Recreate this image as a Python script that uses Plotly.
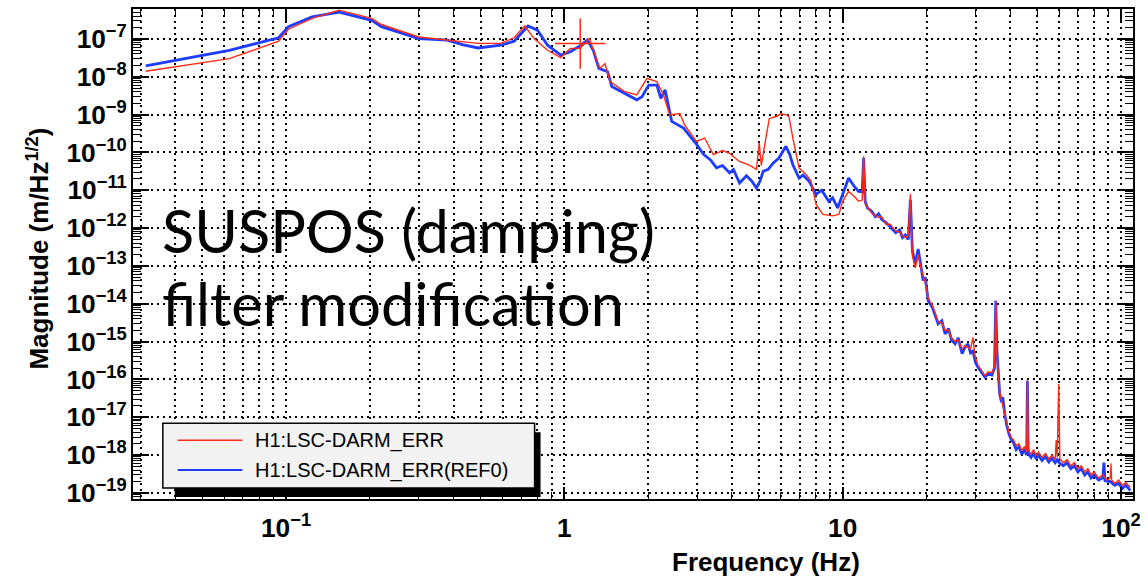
import plotly.graph_objects as go

# ---------------- data ----------------
blue_freq = [0.0313, 0.0625, 0.094, 0.102, 0.124, 0.155, 0.203, 0.22, 0.30, 0.38, 0.43, 0.49, 0.59, 0.66,
             0.74, 0.80, 0.87, 0.97, 1.05, 1.14, 1.21, 1.27, 1.33, 1.43, 1.48, 1.64, 1.82, 1.90, 2.01, 2.15,
             2.22, 2.30, 2.43, 2.68, 2.99, 3.16, 3.35, 3.52, 3.7, 3.92, 4.05, 4.26, 4.51, 4.7, 4.9, 5.05,
             5.18, 5.4, 5.62, 5.9, 6.25, 6.45, 6.62, 6.97, 7.2, 7.57, 8.02, 8.4, 8.91, 9.2, 9.59, 10.0,
             10.5, 11.0, 11.4, 11.75, 11.89, 12.05, 12.27,
             12.7, 13.1, 13.46, 13.8, 14.3, 14.8, 15.5, 16.0, 16.4, 16.8, 17.2, 17.5, 17.8, 18.24, 18.66,
             19.0, 19.45, 19.8, 20.28, 21.0, 21.5, 22.03, 22.7, 23.33, 24.0, 24.6, 25.35, 26.0, 26.85,
             27.5, 28.18, 28.8, 29.38, 30.0, 30.62, 31.5, 32.43, 33.3, 34.36, 35.1, 35.48, 35.8, 36.06,
             36.64, 37.2, 37.58, 38.2, 38.82, 39.6, 40.46,
             41, 42, 43, 44, 45, 45.8, 46.1, 46.4, 47.5, 48.5, 49.5, 50.5, 52, 53.5, 55, 56.5, 58, 59,
             60.3, 62, 64, 66, 68, 70, 72, 74, 76, 78, 80, 83, 86, 86.8, 87.6, 91.5, 95, 98, 101, 104, 108]
blue_mag = [1.95e-8, 5.0e-8, 1.07e-7, 2.1e-7, 3.8e-7, 5.1e-7, 3.1e-7, 2.1e-7, 1.02e-7, 9.3e-8, 7.1e-8,
            5.75e-8, 6.8e-8, 8.7e-8, 2.2e-7, 1.7e-7, 6.8e-8, 3.7e-8, 4.6e-8, 6.6e-8, 9.3e-8, 5.0e-8,
            1.66e-8, 1.35e-8, 5.5e-9, 3.6e-9, 2.45e-9, 2.95e-9, 6.0e-9, 6.0e-9, 2.7e-9, 4.5e-9, 6.6e-10,
            4.4e-10, 1.6e-10, 8.9e-11, 6.3e-11, 3.9e-11, 4.5e-11, 2.9e-11, 3.55e-11, 1.55e-11, 2.4e-11,
            1.78e-11, 1.15e-11, 1.78e-11, 3.16e-11, 3.55e-11, 5.2e-11, 7.1e-11, 1.45e-10, 8.9e-11,
            4.7e-11, 2.1e-11, 2.5e-11, 1.74e-11, 7.8e-12, 1.0e-11, 5.1e-12, 6.3e-12, 3.4e-12, 7.8e-12,
            2.1e-11, 1.26e-11, 9.3e-12, 9.0e-12, 7.1e-11, 5.0e-12, 3.4e-12,
            2.8e-12, 2.0e-12, 2.4e-12, 1.7e-12, 1.4e-12, 1.1e-12, 7.6e-13, 8.9e-13, 5.6e-13, 6.6e-13,
            5.0e-13, 5.6e-12, 2.5e-13, 1.1e-13, 2.8e-13, 1.26e-13, 4.1e-14, 5.0e-14, 1.2e-14, 7.9e-15,
            5.0e-15, 2.95e-15, 3.55e-15, 1.6e-15, 2.2e-15, 1.1e-15, 8.7e-16, 1.26e-15, 4.8e-16, 7.1e-16,
            8.7e-16, 5.0e-16, 5.6e-16, 2.8e-16, 2.1e-16, 1.6e-16, 1.15e-16, 1.4e-16, 1.3e-16, 2.0e-16,
            1.2e-14, 6.3e-16, 2.1e-16, 4.2e-17, 2.5e-17, 3.4e-17, 1.26e-17, 6.3e-18, 3.55e-18, 2.4e-18,
            2.2e-18, 1.4e-18, 1.7e-18, 1.05e-18, 1.4e-18, 1.0e-18, 8.9e-17, 1.1e-18, 8.7e-19, 1.15e-18,
            7.9e-19, 1.0e-18, 7.2e-19, 9.1e-19, 6.6e-19, 8.3e-19, 6.3e-19, 7.6e-19, 6.0e-19, 5.2e-19,
            6.3e-19, 4.4e-19, 5.2e-19, 3.6e-19, 4.4e-19, 3.0e-19, 3.6e-19, 2.5e-19, 3.0e-19, 2.2e-19,
            2.5e-19, 6.3e-19, 2.1e-19, 2.0e-19, 1.6e-19, 1.8e-19, 1.3e-19, 1.6e-19, 1.15e-19]

red_freq = [0.0313, 0.0625, 0.094, 0.102, 0.124, 0.155, 0.203, 0.22, 0.30, 0.38, 0.41, 0.49, 0.59, 0.66,
            0.72, 0.78, 0.87, 0.97, 1.05, 1.14, 1.23, 1.34, 1.40, 1.46, 1.64, 1.82, 1.98, 2.15, 2.27,
            2.39, 2.60, 2.70, 2.98, 3.19, 3.43, 3.70, 3.92, 4.25, 4.6, 4.9, 5.01, 5.1, 5.3, 5.45, 5.77,
            6.0, 6.25, 6.41, 6.62, 6.97, 7.38, 7.69, 8.02, 8.49, 9.2, 9.68, 10.0, 10.5, 11.12, 11.4,
            11.75, 11.89, 12.05, 12.27,
            12.7, 13.1, 13.46, 13.8, 14.3, 14.8, 15.5, 16.0, 16.4, 16.8, 17.2, 17.5, 17.8, 18.24, 18.66,
            19.0, 19.45, 19.8, 20.28, 21.0, 21.5, 22.03, 22.7, 23.33, 24.0, 24.6, 25.35, 26.0, 26.85,
            27.5, 28.18, 28.8, 29.38, 29.8, 30.62, 31.5, 32.43, 33.3, 34.36, 35.1, 35.48, 35.8, 36.06,
            36.64, 37.2, 37.58, 38.2, 38.82, 39.6, 40.46,
            41, 42, 43, 44, 45, 45.8, 46.1, 46.4, 47.5, 48.5, 49.5, 50.5, 52, 53.5, 55, 56.5, 58, 58.5,
            59, 59.7, 60.3, 62, 64, 66, 68, 70, 72, 74, 76, 78, 80, 83, 86, 89, 91.5, 92, 92.5, 95, 98,
            101, 104, 108]
red_mag = [1.4e-8, 3.0e-8, 8.7e-8, 1.8e-7, 3.5e-7, 5.75e-7, 3.5e-7, 2.4e-7, 1.12e-7, 9.3e-8, 8.7e-8,
           7.6e-8, 7.6e-8, 1.07e-7, 2.2e-7, 1.0e-7, 5.0e-8, 3.2e-8, 5.6e-8, 5.6e-8, 1.02e-7, 1.66e-8,
           2.2e-8, 7.4e-9, 4.1e-9, 3.3e-9, 9.1e-9, 7.4e-9, 3.3e-9, 9.8e-10, 1.07e-9, 5.4e-10, 1.95e-10,
           2.4e-10, 8.7e-11, 1.12e-10, 9.5e-11, 5.75e-11, 4.7e-11, 3.55e-11, 1.8e-10, 4.5e-11, 2.5e-10,
           7.9e-10, 8.9e-10, 1.05e-9, 9.8e-10, 8.9e-10, 2.4e-10, 3.9e-11, 2.6e-11, 1.74e-11, 4.2e-12,
           2.3e-12, 2.1e-12, 2.3e-12, 5.1e-12, 9.3e-12, 6.3e-12, 5.1e-12, 5.5e-12, 7.9e-11, 4.5e-12,
           3.55e-12,
           2.5e-12, 2.2e-12, 1.9e-12, 2.0e-12, 1.26e-12, 1.26e-12, 8.3e-13, 7.9e-13, 6.3e-13, 5.6e-13,
           6.3e-13, 7.9e-12, 1.8e-13, 8.9e-14, 2.0e-13, 1.0e-13, 5.0e-14, 3.55e-14, 1.4e-14, 8.9e-15,
           5.6e-15, 3.3e-15, 3.16e-15, 2.0e-15, 2.0e-15, 1.26e-15, 1.0e-15, 1.12e-15, 6.3e-16, 7.9e-16,
           7.1e-16, 6.3e-16, 1.3e-15, 4.5e-16, 2.4e-16, 1.8e-16, 1.26e-16, 1.6e-16, 1.5e-16, 2.2e-16,
           1.2e-14, 5.0e-16, 2.0e-16, 5.0e-17, 2.8e-17, 2.0e-17, 1.1e-17, 7.1e-18, 4.0e-18, 2.8e-18,
           2.6e-18, 1.8e-18, 2.0e-18, 1.3e-18, 1.7e-18, 1.2e-18, 1.0e-16, 1.4e-18, 1.05e-18, 1.4e-18,
           9.5e-19, 1.2e-18, 8.7e-19, 1.1e-18, 7.9e-19, 1.0e-18, 7.6e-19, 2.5e-18, 8.9e-19, 7.6e-17,
           7.9e-19, 6.3e-19, 7.6e-19, 5.2e-19, 6.3e-19, 4.4e-19, 5.2e-19, 3.6e-19, 4.4e-19, 3.0e-19,
           3.6e-19, 2.5e-19, 3.0e-19, 2.2e-19, 2.5e-19, 6.0e-19, 2.2e-19, 1.8e-19, 2.2e-19, 1.6e-19,
           1.9e-19, 1.4e-19]

cursor_freq = [1.14]
cursor_mag = [7.5e-8]

series_names = ["H1:LSC-DARM_ERR", "H1:LSC-DARM_ERR(REF0)"]
red_color = "#ff2a14"
blue_color = "#1e3cff"

# ---------------- figure ----------------
fig = go.Figure()
fig.add_trace(go.Scatter(x=blue_freq, y=blue_mag, mode="lines", name=series_names[1],
                         line=dict(color=blue_color, width=2.8), showlegend=False))
fig.add_trace(go.Scatter(x=red_freq, y=red_mag, mode="lines", name=series_names[0],
                         line=dict(color=red_color, width=1.4), showlegend=False))
fig.add_trace(go.Scatter(x=cursor_freq, y=cursor_mag, mode="markers", showlegend=False,
                         marker=dict(symbol="cross-thin", size=36,
                                     line=dict(color=red_color, width=1.5))))

tick_font = dict(family="Liberation Sans", size=21, color="black", weight="bold")
dots = "2px,4px"

fig.update_xaxes(type="log", range=[-1.55, 2.043], dtick=1, exponentformat="power",
                 showline=True, linewidth=2, linecolor="black", mirror="allticks",
                 ticks="inside", ticklen=12, tickwidth=1.5, tickcolor="black",
                 showgrid=True, gridcolor="black", gridwidth=1.5, griddash=dots,
                 minor=dict(dtick="D1", ticks="inside", ticklen=7, tickwidth=1.2, tickcolor="black",
                            showgrid=True, gridcolor="black", gridwidth=1.5, griddash=dots),
                 tickfont=tick_font, zeroline=False, ticklabelstandoff=6)
fig.update_yaxes(type="log", range=[-19.16, -6.21], dtick=1, exponentformat="power",
                 showline=True, linewidth=2, linecolor="black", mirror="allticks",
                 ticks="inside", ticklen=16, tickwidth=1.5, tickcolor="black",
                 showgrid=True, gridcolor="black", gridwidth=1.5, griddash=dots,
                 minor=dict(dtick="D1", ticks="inside", ticklen=8, tickwidth=1.2, tickcolor="black",
                            showgrid=False),
                 tickfont=tick_font, zeroline=False)

W, H = 1148, 585
L, R, T, B = 133, 9, 7, 86
pw, ph = W - L - R, H - T - B


def px(xp):
    return (xp - L) / pw


def py(yp):
    return (H - B - yp) / ph


shapes = [
    # legend shadow
    dict(type="rect", xref="paper", yref="paper", x0=px(175), x1=px(543), y0=py(497), y1=py(432),
         fillcolor="black", line=dict(width=0), layer="above"),
    # legend box
    dict(type="rect", xref="paper", yref="paper", x0=px(163), x1=px(537), y0=py(488), y1=py(423),
         fillcolor="#f2f2f2", line=dict(color="black", width=1.5), layer="above"),
    dict(type="line", xref="paper", yref="paper", x0=px(178), x1=px(243), y0=py(440), y1=py(440),
         line=dict(color=red_color, width=1.4), layer="above"),
    dict(type="line", xref="paper", yref="paper", x0=px(178), x1=px(243), y0=py(470), y1=py(470),
         line=dict(color=blue_color, width=2), layer="above"),
]

title_font = dict(family="Liberation Sans", size=26, color="black", weight="bold")
big_font = dict(family="Lato", size=59.5, color="black")
leg_font = dict(family="Liberation Sans", size=20, color="black")

annotations = [
    dict(text="Magnitude (m/Hz<sup>1/2</sup>)", xref="paper", yref="paper", x=px(37), y=py(248),
         textangle=-90, showarrow=False, font=title_font, xanchor="center", yanchor="middle"),
    dict(text="Frequency (Hz)", xref="paper", yref="paper", x=px(770), y=py(562),
         showarrow=False, font=title_font, xanchor="center", yanchor="middle"),
    dict(text="SUSPOS (damping)", xref="paper", yref="paper", x=px(160), y=py(229),
         showarrow=False, font=big_font, xanchor="left", yanchor="middle"),
    dict(text="filter modification", xref="paper", yref="paper", x=px(160), y=py(302),
         showarrow=False, font=big_font, xanchor="left", yanchor="middle"),
    dict(text=series_names[0], xref="paper", yref="paper", x=px(254), y=py(440),
         showarrow=False, font=leg_font, xanchor="left", yanchor="middle"),
    dict(text=series_names[1], xref="paper", yref="paper", x=px(254), y=py(470),
         showarrow=False, font=leg_font, xanchor="left", yanchor="middle"),
]

fig.update_layout(width=W, height=H, margin=dict(l=L, r=R, t=T, b=B),
                  paper_bgcolor="white", plot_bgcolor="white",
                  shapes=shapes, annotations=annotations, showlegend=False)

fig.write_html("out.html")
